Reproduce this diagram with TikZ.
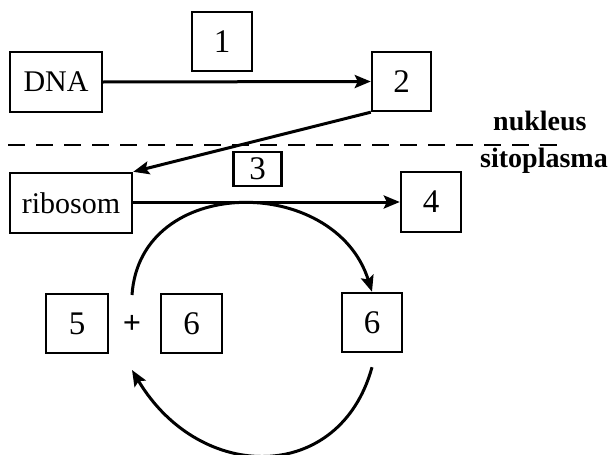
\documentclass[tikz,border=0pt]{standalone}
\usepackage{fontspec}
\setmainfont{Liberation Serif}
\usetikzlibrary{arrows.meta}
\begin{document}
\begin{tikzpicture}[x=1pt,y=-1pt,
  every node/.style={font=\fontsize{30}{33}\selectfont},
  box/.style={draw, line width=2.4pt, inner sep=0pt, anchor=center},
  numbox/.style={box, font=\fontsize{33}{35}\selectfont},
  conn/.style={line width=3pt, -{Stealth[length=16pt,width=13pt,inset=3pt]}},
  region/.style={font=\fontsize{28}{30}\selectfont\bfseries, inner sep=0pt}]
\useasboundingbox (0,0) rectangle (608,455);

% boxes of the process
\node[box, minimum width=92pt, minimum height=60pt] (dna) at (56,82) {DNA};
\node[numbox, minimum width=60pt, minimum height=59pt] (b1) at (222,41.5) {1};
\node[numbox, minimum width=59pt, minimum height=59pt] (b2) at (401.5,81.5) {2};
\node[box, minimum width=122pt, minimum height=60pt] (rib) at (71,203) {ribosom};
\node[numbox, minimum width=48pt, minimum height=34pt] (b3) at (257.5,169) {3};
\node[numbox, minimum width=60pt, minimum height=60pt] (b4) at (431,202) {4};
\node[numbox, minimum width=62pt, minimum height=59pt] (b5) at (77,323.5) {5};
\node[font=\fontsize{32}{34}\selectfont\bfseries] (plus) at (132,324) {+};
\node[numbox, minimum width=61pt, minimum height=59pt] (b6a) at (191.5,323.5) {6};
\node[numbox, minimum width=60pt, minimum height=59pt] (b6b) at (372,322.5) {6};

% nucleus / cytoplasm border
\coordinate (bl) at (8,145);
\coordinate (br) at (562,145);
\draw[line width=2.4pt, dash pattern=on 17pt off 11pt] (bl) -- (br);
\node[region, anchor=base west] (nuk) at (493,130) {nukleus};
\node[region, anchor=base west] (sito) at (480,167) {sitoplasma};

% connectors
\draw[conn] (dna.east) -- (b2.west);
\draw[conn] (b2.south west) -- (rib.north east);
\draw[conn] (rib.east |- b4.west) -- (b4.west);

% cycle between the two sides
\coordinate (upS) at ([yshift=29pt]plus.center);
\coordinate (loS) at ([yshift=-14pt]b6b.south);
\coordinate (loE) at ([yshift=-46pt]plus.center);
\draw[conn] (upS) .. controls (140,174) and (335,174) .. (b6b.north);
\draw[conn] (loS) .. controls (340,484) and (200,484) .. (loE);
\end{tikzpicture}
\end{document}
